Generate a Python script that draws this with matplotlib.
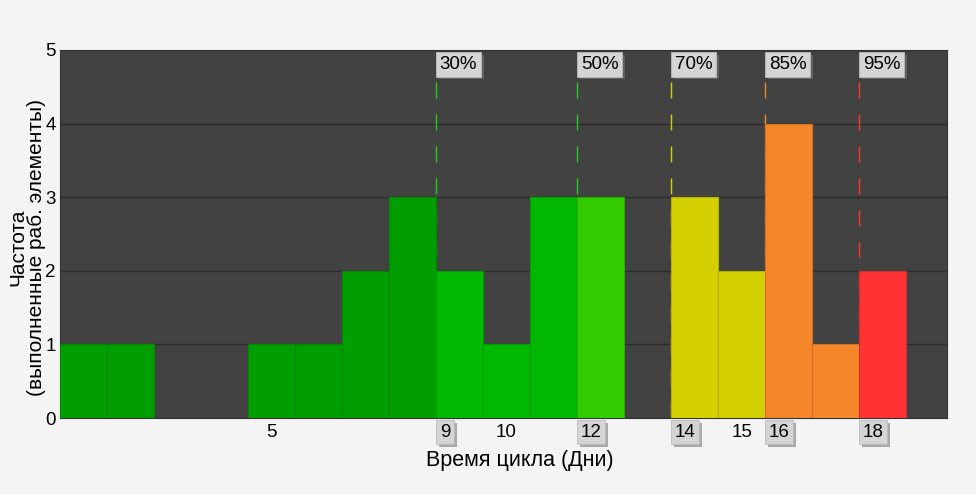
import matplotlib
matplotlib.use('Agg')
import matplotlib.pyplot as plt
import matplotlib.patheffects as pe
import matplotlib.transforms as mtransforms

# data
days = list(range(1, 20))
counts = [1, 1, 0, 0, 1, 1, 2, 3, 2, 1, 3, 3, 0, 3, 2, 4, 1, 2, 0]
bar_colors = ['#009e00'] * 8 + ['#00b800'] * 3 + ['#33cc00', '#33cc00'] + \
             ['#d4d000'] * 2 + ['#f5862a'] * 2 + ['#ff3333'] * 2

pct_labels = ['30%', '50%', '70%', '85%', '95%']
pct_days = [9, 12, 14, 16, 18]
pct_colors = ['#22cc22', '#22cc22', '#d4d000', '#f5862a', '#ff3333']

plain_ticks = [5, 10, 15]

plt.rcParams['font.family'] = ['Liberation Sans', 'DejaVu Sans']
plt.rcParams['font.size'] = 13

fig = plt.figure(figsize=(9.76, 4.94), dpi=100)
fig.patch.set_facecolor('#f4f4f4')
ax = fig.add_axes([60 / 976, 76 / 494, 887 / 976, 368 / 494])
ax.set_facecolor('#424242')

ax.set_xlim(0.5, 19.37)
ax.set_ylim(0, 5)
ax.set_yticks(range(6))
ax.yaxis.grid(True, color='#2c2c2c', linewidth=1)
ax.set_axisbelow(True)
ax.tick_params(axis='y', length=0, pad=3, labelsize=13.5)
ax.set_xticks([])
for s in ax.spines.values():
    s.set_color('#333333')

def darker(c, f=0.85):
    r, g, b = matplotlib.colors.to_rgb(c)
    return (r * f, g * f, b * f)

for d, c, col in zip(days, counts, bar_colors):
    if c > 0:
        ax.bar(d, c, width=1.0, color=col, edgecolor=darker(col),
               linewidth=0.8, zorder=3)

shadow = [pe.withSimplePatchShadow(offset=(2, -2), shadow_rgbFace='#777777', alpha=0.6)]
box = dict(boxstyle='square,pad=0.2', facecolor='#d4d4d4', edgecolor='#bbbbbb', linewidth=0.6)

# percentile lines and labels
for lab, d, col in zip(pct_labels, pct_days, pct_colors):
    x = d - 0.5
    ln, = ax.plot([x, x], [4.565, 0], color=col, linewidth=1, zorder=2)
    ln.set_dashes((11.5, 11.5))
    t = ax.text(x + 0.08, 4.92, lab, ha='left', va='top', fontsize=13.5,
                bbox=box, zorder=5)
    t.get_bbox_patch().set_path_effects(shadow)

# x tick labels
trans = mtransforms.blended_transform_factory(ax.transData, ax.transAxes)
for d in plain_ticks:
    ax.text(d, -0.015, str(d), transform=trans, ha='center', va='top', fontsize=13.5)
for d in pct_days:
    t = ax.text(d - 0.5 + 0.08, -0.015, str(d), transform=trans, ha='left', va='top',
                fontsize=13.5, bbox=box, clip_on=False)
    t.get_bbox_patch().set_path_effects(shadow)

fig.text(27 / 976, 1 - 247 / 494, 'Частота\n(выполненные раб. элементы)',
         rotation=90, ha='center', va='center', fontsize=15, linespacing=0.95,
         multialignment='center')
fig.text(520 / 976, 1 - 460 / 494, 'Время цикла (Дни)', ha='center', va='center',
         fontsize=15.5)

fig.savefig('out.png', dpi=100, facecolor=fig.get_facecolor())
